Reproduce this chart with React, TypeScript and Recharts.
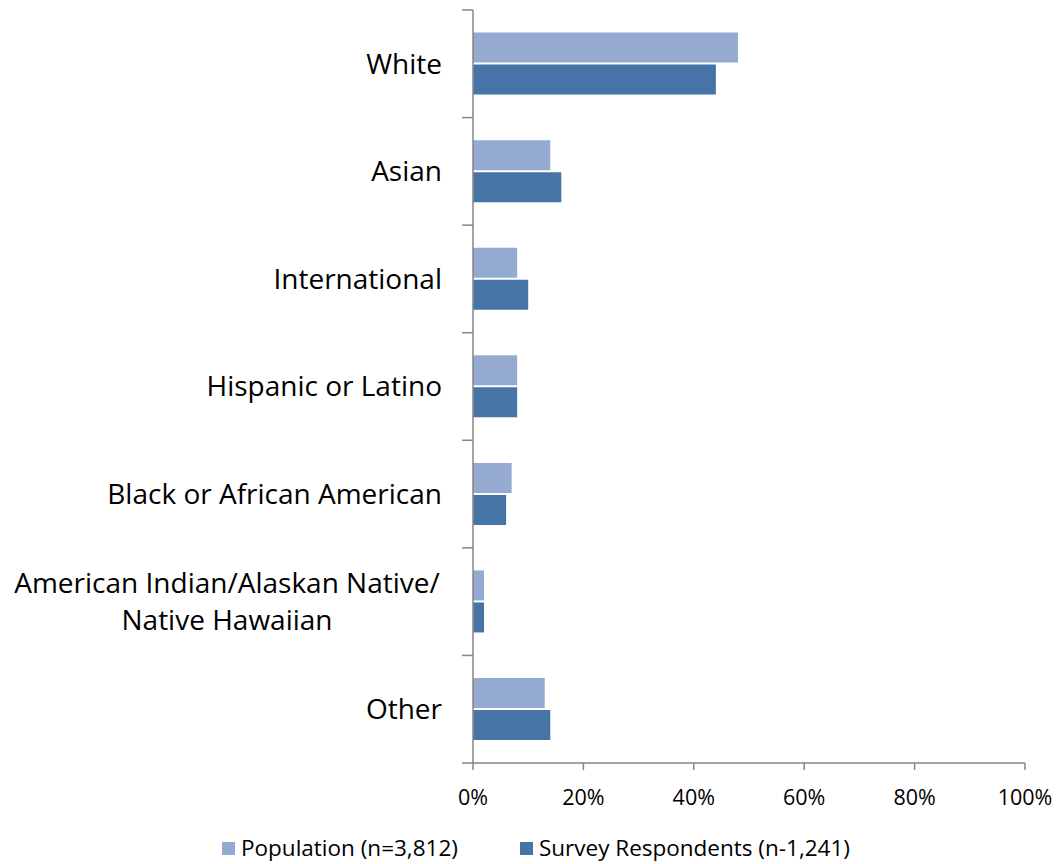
import React from 'react'
import { BarChart, Bar, XAxis, YAxis, Legend } from 'recharts'

// Race / ethnicity breakdown, percent
const categories = [
  'White',
  'Asian',
  'International',
  'Hispanic or Latino',
  'Black or African American',
  'American Indian/Alaskan Native/\nNative Hawaiian',
  'Other'
]
const population = [48, 14, 8, 8, 7, 2, 13]
const respondents = [44, 16, 10, 8, 6, 2, 14]
const percentTicks = [0, 20, 40, 60, 80, 100]

const seriesNames = {
  population: 'Population (n=3,812)',
  respondents: 'Survey Respondents (n-1,241)'
}

const colors = {
  population: '#95aad0',
  respondents: '#4674a7',
  axis: '#868686',
  text: '#000000'
}

const data = categories.map((name, i) => ({
  name,
  population: population[i],
  respondents: respondents[i]
}))

const CHART_W = 1045
const CHART_H = 856
const Y_AXIS_W = 465
const MARGIN = { top: 2, right: 28, left: 0, bottom: 0 }
const X_AXIS_H = 60
const LEGEND_H = 41
const PLOT_H = CHART_H - MARGIN.top - MARGIN.bottom - X_AXIS_H - LEGEND_H
const band = PLOT_H / categories.length

const FONT = '"Open Sans", Lato, sans-serif'

const CategoryTick = (props: any) => {
  const { x, y, payload, index } = props
  const lines = String(payload.value).split('\n')
  const lineGap = 37
  return (
    <g>
      <line x1={x - 11} x2={x} y1={y - band / 2} y2={y - band / 2} stroke={colors.axis} strokeWidth={1.5} />
      {index === categories.length - 1 && (
        <line x1={x - 11} x2={x} y1={y + band / 2} y2={y + band / 2} stroke={colors.axis} strokeWidth={1.5} />
      )}
      {lines.length === 1 ? (
        <text x={x - 31} y={y} dy="0.35em" textAnchor="end" fill={colors.text} fontSize={28} fontFamily={FONT}>
          {lines[0]}
        </text>
      ) : (
        <text x={x - 246} y={y} textAnchor="middle" fill={colors.text} fontSize={28} fontFamily={FONT}>
          {lines.map((l, i) => (
            <tspan key={i} x={x - 246} y={y + (i - (lines.length - 1) / 2) * lineGap} dy="0.35em">
              {l}
            </tspan>
          ))}
        </text>
      )}
    </g>
  )
}

const LegendContent = () => {
  const items = [
    { label: seriesNames.population, color: colors.population },
    { label: seriesNames.respondents, color: colors.respondents }
  ]
  return (
    <div
      style={{
        height: LEGEND_H,
        display: 'flex',
        alignItems: 'flex-start',
        paddingLeft: 214,
        paddingTop: 12,
        boxSizing: 'border-box',
        fontFamily: FONT,
        fontSize: 22.5,
        lineHeight: '26px',
        color: colors.text
      }}
    >
      {items.map((it, i) => (
        <div key={i} style={{ display: 'flex', alignItems: 'center', marginRight: 62, whiteSpace: 'nowrap' }}>
          <span style={{ width: 13, height: 13, background: it.color, display: 'inline-block', marginRight: 6 }} />
          <span>{it.label}</span>
        </div>
      ))}
    </div>
  )
}

export default function App() {
  return (
    <div style={{ width: CHART_W, height: CHART_H, background: '#fff' }}>
      <BarChart
        width={CHART_W}
        height={CHART_H}
        data={data}
        layout="vertical"
        margin={MARGIN}
        barCategoryGap="21%"
        barGap={2}
      >
        <XAxis
          type="number"
          domain={[0, 100]}
          ticks={percentTicks}
          tickFormatter={(v: number) => `${v}%`}
          height={X_AXIS_H}
          tickSize={7}
          tickMargin={20}
          axisLine={{ stroke: colors.axis, strokeWidth: 1.5 }}
          tickLine={{ stroke: colors.axis, strokeWidth: 1.5 }}
          tick={{ fill: colors.text, fontSize: 21.5, fontFamily: FONT }}
          interval={0}
        />
        <YAxis
          type="category"
          dataKey="name"
          width={Y_AXIS_W}
          tickSize={0}
          tickMargin={0}
          axisLine={{ stroke: colors.axis, strokeWidth: 1.5 }}
          tickLine={false}
          tick={<CategoryTick />}
          interval={0}
        />
        <Legend verticalAlign="bottom" align="left" content={<LegendContent />} wrapperStyle={{ left: 0 }} />
        <Bar
          dataKey="population"
          name={seriesNames.population}
          fill={colors.population}
          isAnimationActive={false}
        />
        <Bar
          dataKey="respondents"
          name={seriesNames.respondents}
          fill={colors.respondents}
          isAnimationActive={false}
        />
      </BarChart>
    </div>
  )
}
